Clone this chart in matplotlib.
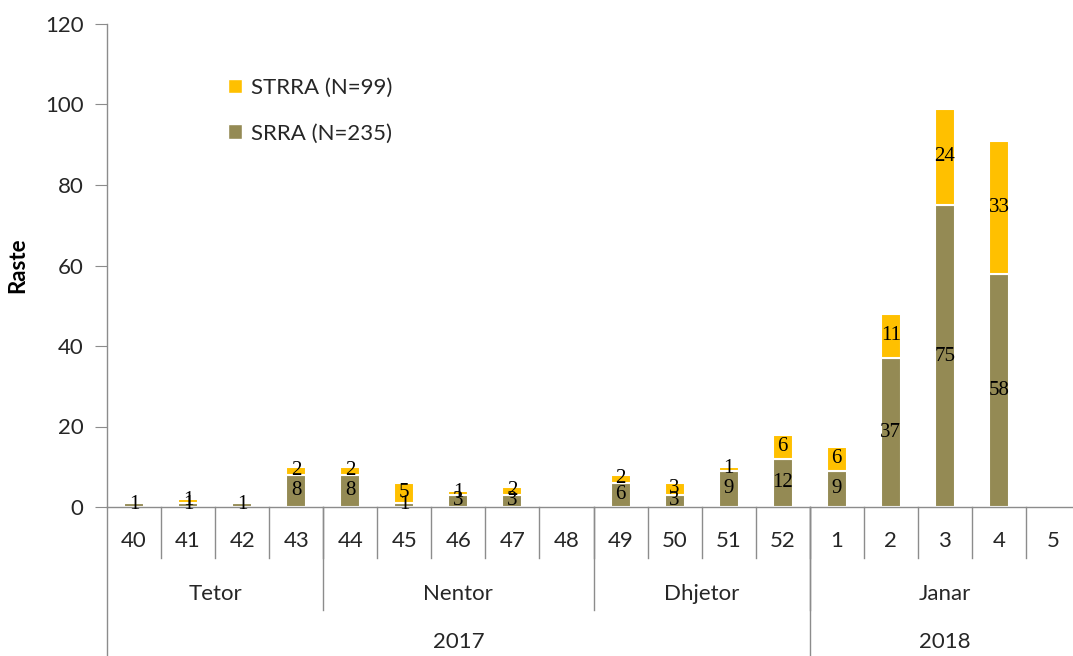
import matplotlib
matplotlib.use("Agg")
import matplotlib.pyplot as plt
from matplotlib.patches import Patch

# weekly case counts, 2017 week 40 .. 2018 week 5
weeks = ["40", "41", "42", "43", "44", "45", "46", "47", "48",
         "49", "50", "51", "52", "1", "2", "3", "4", "5"]
srra = [1, 1, 1, 8, 8, 1, 3, 3, 0, 6, 3, 9, 12, 9, 37, 75, 58, 0]
strra = [0, 1, 0, 2, 2, 5, 1, 2, 0, 2, 3, 1, 6, 6, 11, 24, 33, 0]

# month groups: (name, first index, last index)
months = [("Tetor", 0, 3), ("Nentor", 4, 8), ("Dhjetor", 9, 12), ("Janar", 13, 17)]
years = [("2017", 0, 12), ("2018", 13, 17)]

c_srra = "#948A54"
c_strra = "#FFC000"
grey = "#8C8C8C"
txt = "#262626"

plt.rcParams["font.family"] = ["Lato", "DejaVu Sans"]

fig = plt.figure(figsize=(10.73, 6.56), dpi=100)
ax = fig.add_axes([107 / 1073, 149 / 656, 966 / 1073, 483 / 656])

x = list(range(len(weeks)))
b1 = ax.bar(x, srra, width=0.37, color=c_srra, edgecolor="white", linewidth=1.5)
b2 = ax.bar(x, strra, width=0.37, bottom=srra, color=c_strra, edgecolor="white", linewidth=1.5)

lab_font = dict(family=["Liberation Serif", "DejaVu Serif"], size=15)
ax.bar_label(b1, labels=[str(v) if v else "" for v in srra], label_type="center", **lab_font)
ax.bar_label(b2, labels=[str(v) if v else "" for v in strra], label_type="center", **lab_font)

ax.set_xlim(-0.5, 17.37)
ax.set_ylim(0, 120)
ax.set_yticks(range(0, 121, 20))
ax.tick_params(axis="y", length=9, color=grey, labelsize=16, labelcolor=txt, pad=8)
ax.tick_params(axis="x", length=0, labelbottom=False)
ax.set_ylabel("Raste", fontsize=16, fontweight="bold", labelpad=12)

for s in ["top", "right"]:
    ax.spines[s].set_visible(False)
for s in ["left", "bottom"]:
    ax.spines[s].set_color(grey)
    ax.spines[s].set_linewidth(1)

# multi-level category axis drawn below the plot
tr = ax.get_xaxis_transform()
ln = dict(color=grey, lw=1, transform=tr, clip_on=False)
y_week, y_month, y_year = -0.1056, -0.213, -0.31

ax.plot([-0.5, -0.5], [0, y_year], **ln)
for i in range(len(weeks)):
    ax.text(i, -0.07, weeks[i], transform=tr, ha="center", va="center", fontsize=16, color=txt)
    if i > 0:
        ax.plot([i - 0.5, i - 0.5], [0, y_week], **ln)

for name, a, b in months:
    ax.text((a + b) / 2, -0.18, name, transform=tr, ha="center", va="center", fontsize=16, color=txt)
    if a > 0:
        ax.plot([a - 0.5, a - 0.5], [0, y_month], **ln)

for name, a, b in years:
    ax.text((a + b) / 2, -0.28, name, transform=tr, ha="center", va="center", fontsize=16, color=txt)
    if a > 0:
        ax.plot([a - 0.5, a - 0.5], [0, y_year], **ln)

handles = [Patch(facecolor=c_strra, edgecolor="white", label="STRRA (N=99)"),
           Patch(facecolor=c_srra, edgecolor="white", label="SRRA (N=235)")]
ax.legend(handles=handles, loc="upper left", bbox_to_anchor=(0.105, 0.93), frameon=False,
          fontsize=16, handlelength=0.6, handleheight=0.6, handletextpad=0.4, labelspacing=1.15,
          labelcolor=txt)

fig.savefig("out.png", dpi=100)
